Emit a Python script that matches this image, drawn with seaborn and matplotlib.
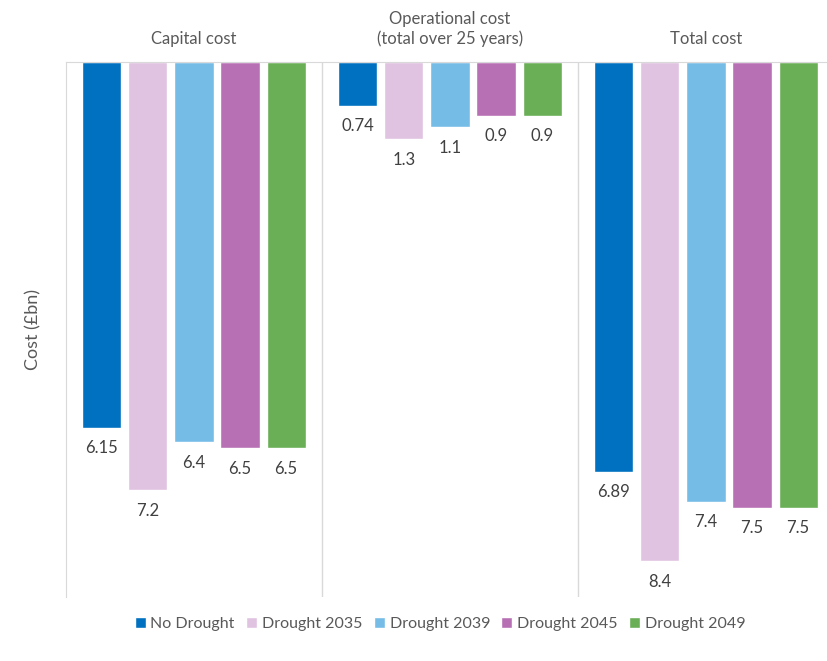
import matplotlib
matplotlib.use("Agg")
import seaborn as sns
import pandas as pd
import matplotlib.pyplot as plt

categories = ["Capital cost", "Operational cost\n(total over 25 years)", "Total cost"]
scenarios = ["No Drought", "Drought 2035", "Drought 2039", "Drought 2045", "Drought 2049"]
capital = [6.15, 7.2, 6.4, 6.5, 6.5]
operational = [0.74, 1.3, 1.1, 0.9, 0.9]
total = [6.89, 8.4, 7.4, 7.5, 7.5]
colors = ["#0070C0", "#E0C3E0", "#75BDE7", "#B870B5", "#6AAF56"]

rows = []
for cat, vals in zip(categories, [capital, operational, total]):
    for s, v in zip(scenarios, vals):
        rows.append({"category": cat, "scenario": s, "cost": v})
df = pd.DataFrame(rows)

sns.set_style("white")
plt.rcParams["font.family"] = ["Lato", "DejaVu Sans"]

fig = plt.figure(figsize=(8.28, 6.61), dpi=100)
ax = fig.add_axes([0.0797, 0.0968, 0.9275, 0.8094])

sns.barplot(data=df, x="category", y="cost", hue="scenario", hue_order=scenarios,
            palette=colors, width=0.9, gap=0.15, ax=ax, saturation=1)

ax.set_ylim(9, 0)
ax.set_xlim(-0.5, 2.5)
for c in ax.containers:
    ax.bar_label(c, fmt="%g", padding=9, fontsize=12, color="#404040")

grey = "#D9D9D9"
for x in [0.5, 1.5]:
    ax.axvline(x, color=grey, lw=1)
for side in ["top", "left", "right"]:
    ax.spines[side].set_color(grey)
ax.spines["bottom"].set_visible(False)

ax.xaxis.tick_top()
ax.tick_params(axis="x", length=0, labelsize=12, labelcolor="#595959", pad=11)
ax.set_yticks([])
ax.set_xlabel("")
ax.set_ylabel("Cost (£bn)", fontsize=13, color="#595959", labelpad=18)

ax.legend(loc="center", bbox_to_anchor=(0.487, -0.05), ncol=5, frameon=False,
          fontsize=11.5, labelcolor="#595959", handlelength=0.7, handleheight=0.7,
          handletextpad=0.3, columnspacing=0.7)

fig.savefig("out.png", dpi=100)
